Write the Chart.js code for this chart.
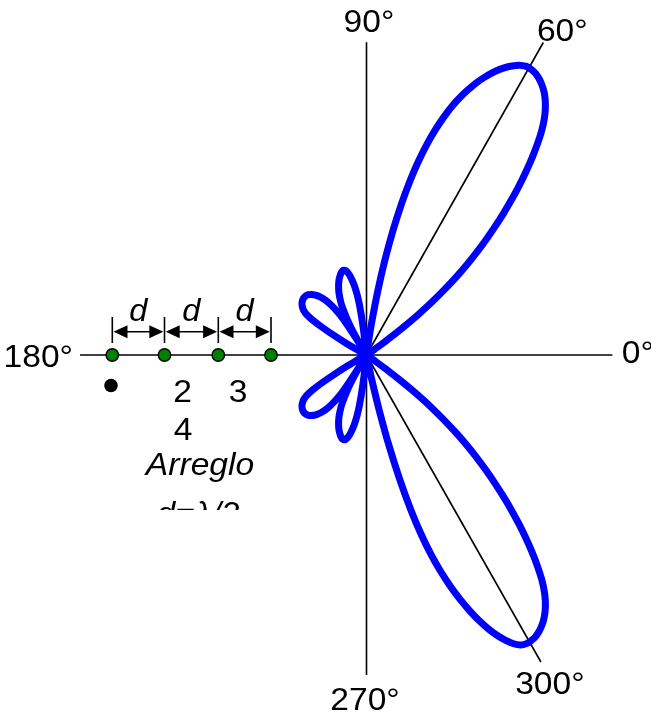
<!DOCTYPE html>
<html>
<head>
<meta charset="utf-8">
<script src="https://cdn.jsdelivr.net/npm/chart.js@4"></script>
<style>
  html, body { margin: 0; padding: 0; background: #ffffff; overflow: hidden; }
  #wrap { width: 651px; height: 715px; position: relative; }
</style>
</head>
<body>
<div id="wrap"><canvas id="pattern" width="651" height="715"></canvas></div>
<script>
// Far-field pattern of a 4-element linear array (d = λ/2), beams at 60° and 300°.
// Angles in degrees, field normalised to the main-beam maximum.
const patternAngles = [
  // main lobe, upper half
  0, 30, 33, 34, 35, 36, 37, 38, 39, 40, 41, 42, 43, 44, 45, 46, 47, 48, 49, 50,
  51, 52, 53, 54, 55, 56, 57, 58, 59, 60, 61, 62, 63, 64, 65, 66, 67, 68, 69, 70,
  71, 72, 73, 74, 75, 76, 77, 78, 79, 80, 81, 82, 82.5,
  // side lobes, upper half
  96, 97, 98, 99, 100, 101, 102, 103, 104, 105, 106, 107, 108, 110, 112, 114, 116, 117, 118, 119, 120, 121, 121.5,
  122, 123, 124, 125, 126, 127, 128, 130, 132, 134, 136, 138, 140, 142, 144, 145, 146, 147, 148, 149, 150, 151, 152, 154,
  180,
  // side lobes, lower half
  206, 208, 209, 210, 211, 212, 213, 214, 215, 216, 218, 220, 222, 224, 226, 228, 230, 232, 233, 234, 235, 236, 237, 238,
  238.5, 239, 240, 241, 242, 243, 244, 246, 248, 250, 252, 253, 254, 255, 256, 257, 258, 259, 260, 261, 262, 263, 264,
  // main lobe, lower half
  281, 282, 283, 284, 285, 286, 287, 288, 289, 290, 291, 292, 293, 294, 295, 296, 297, 298, 299, 300,
  301, 302, 303, 304, 305, 306, 307, 308, 309, 310, 311, 312, 313, 314, 315, 316, 317, 318, 319, 320,
  321, 322, 323, 324, 325, 326, 327, 330, 360
];
const patternField = [
  0, 0, 0, 0.008, 0.03, 0.07, 0.135, 0.198, 0.255, 0.308, 0.36, 0.41, 0.458, 0.505, 0.552, 0.599, 0.646, 0.692, 0.737, 0.781,
  0.823, 0.862, 0.895, 0.922, 0.944, 0.962, 0.976, 0.987, 0.995, 0.999, 1.0, 0.994, 0.984, 0.971, 0.955, 0.936, 0.914, 0.89, 0.862, 0.832,
  0.798, 0.758, 0.714, 0.664, 0.607, 0.542, 0.468, 0.385, 0.295, 0.198, 0.096, 0.02, 0,
  0, 0.09, 0.155, 0.19, 0.215, 0.233, 0.248, 0.258, 0.264, 0.266, 0.265, 0.261, 0.256, 0.243, 0.226, 0.205, 0.177, 0.158, 0.135, 0.11, 0.08, 0.04, 0,
  0.06, 0.13, 0.16, 0.18, 0.196, 0.209, 0.22, 0.236, 0.247, 0.254, 0.257, 0.257, 0.254, 0.248, 0.238, 0.23, 0.218, 0.195, 0.16, 0.115, 0.07, 0.04, 0.02, 0,
  0,
  0, 0.02, 0.04, 0.07, 0.115, 0.16, 0.195, 0.218, 0.23, 0.238, 0.248, 0.254, 0.257, 0.257, 0.254, 0.247, 0.236, 0.22, 0.209, 0.196, 0.18, 0.16, 0.13, 0.06,
  0, 0.04, 0.08, 0.11, 0.135, 0.158, 0.177, 0.205, 0.226, 0.243, 0.256, 0.261, 0.265, 0.266, 0.264, 0.258, 0.248, 0.233, 0.215, 0.19, 0.155, 0.09, 0,
  0, 0.07, 0.175, 0.29, 0.395, 0.49, 0.572, 0.64, 0.698, 0.749, 0.795, 0.837, 0.875, 0.909, 0.938, 0.962, 0.982, 0.995, 1.0, 0.999,
  0.995, 0.987, 0.976, 0.962, 0.944, 0.922, 0.895, 0.862, 0.823, 0.781, 0.737, 0.692, 0.646, 0.599, 0.552, 0.505, 0.458, 0.41, 0.36, 0.308,
  0.255, 0.198, 0.135, 0.07, 0.03, 0.008, 0, 0, 0
];

// Reference directions drawn as lines from the origin, with their labels
const axisAngles  = [0, 60.5, 90, 180, 270, 299.6];
const axisLengths = [0.745, 1.088, 0.948, 0.868, 0.970, 1.070];
const axisLabels  = ['0°', '60°', '90°', '180°', '270°', '300°'];

// Array sketch captions
const spacingLabels  = ['d', 'd', 'd'];
const elementNumbers = ['2', '3', '4'];
const arrayTitle     = 'Arreglo';
const spacingText    = 'd=λ/2';

const FONT = '"Liberation Sans", Arial, Helvetica, sans-serif';
const TEXT_STRETCH = 1.05;

function drawText(ctx, txt, x, y, size, align, italic) {
  ctx.save();
  ctx.font = (italic ? 'italic ' : '') + size + 'px ' + FONT;
  ctx.textAlign = align;
  ctx.textBaseline = 'alphabetic';
  ctx.fillStyle = '#000000';
  ctx.translate(x, y);
  ctx.scale(TEXT_STRETCH, 1);
  ctx.fillText(txt, 0, 0);
  ctx.restore();
}

// Label placement relative to the end of each reference line (px)
const labelOffsets = [
  { dx: 9.5,  dy: 8,   align: 'left'   },
  { dx: 19,   dy: -2,  align: 'center' },
  { dx: 2.5,  dy: -10, align: 'center' },
  { dx: -7,   dy: 12,  align: 'right'  },
  { dx: -1.5, dy: 35,  align: 'center' },
  { dx: 9,    dy: 32,  align: 'center' }
];

const polarAxesPlugin = {
  id: 'polarAxes',
  beforeDatasetsDraw(chart) {
    const { ctx, scales: { x, y } } = chart;
    const cx = x.getPixelForValue(0), cy = y.getPixelForValue(0);
    ctx.save();
    ctx.strokeStyle = '#000000';
    ctx.lineWidth = 1.6;
    axisAngles.forEach((deg, i) => {
      const a = deg * Math.PI / 180;
      const ex = x.getPixelForValue(axisLengths[i] * Math.cos(a));
      const ey = y.getPixelForValue(axisLengths[i] * Math.sin(a));
      ctx.beginPath();
      ctx.moveTo(cx, cy);
      ctx.lineTo(ex, ey);
      ctx.stroke();
      const o = labelOffsets[i];
      drawText(ctx, axisLabels[i], ex + o.dx, ey + o.dy, 32, o.align, false);
    });
    ctx.restore();
  },
  afterDatasetsDraw(chart) {
    const { ctx, scales: { x, y } } = chart;
    const cx = x.getPixelForValue(0), cy = y.getPixelForValue(0);
    // element positions along the array axis, px from the origin
    const elemX = [-254.2, -202.0, -148.2, -95.5].map(v => cx + v);
    const tickTop = cy - 38, tickBottom = cy - 12, arrowY = cy - 23.3;
    ctx.save();
    ctx.strokeStyle = '#000000';
    ctx.fillStyle = '#000000';
    ctx.lineWidth = 1.6;
    // spacing markers
    elemX.forEach(ex => {
      ctx.beginPath();
      ctx.moveTo(ex, tickTop);
      ctx.lineTo(ex, tickBottom);
      ctx.stroke();
    });
    const head = (tip, dir) => {
      ctx.beginPath();
      ctx.moveTo(tip, arrowY);
      ctx.lineTo(tip - dir * 14, arrowY - 6.5);
      ctx.lineTo(tip - dir * 14, arrowY + 6.5);
      ctx.closePath();
      ctx.fill();
    };
    for (let i = 0; i < elemX.length - 1; i++) {
      const a = elemX[i] + 1.2, b = elemX[i + 1] - 1.2;
      ctx.beginPath();
      ctx.moveTo(a + 8, arrowY);
      ctx.lineTo(b - 8, arrowY);
      ctx.stroke();
      head(a, -1);
      head(b, 1);
      drawText(ctx, spacingLabels[i], (elemX[i] + elemX[i + 1]) / 2, cy - 34, 31, 'center', true);
    }
    // array elements
    elemX.forEach(ex => {
      ctx.beginPath();
      ctx.arc(ex, cy, 6.2, 0, Math.PI * 2);
      ctx.fillStyle = '#008000';
      ctx.fill();
      ctx.lineWidth = 1.4;
      ctx.strokeStyle = '#000000';
      ctx.stroke();
    });
    // element numbering
    ctx.fillStyle = '#000000';
    ctx.beginPath();
    ctx.arc(cx - 255.5, cy + 30.5, 6.8, 0, Math.PI * 2);
    ctx.fill();
    drawText(ctx, elementNumbers[0], cx - 184, cy + 47, 32, 'center', false);
    drawText(ctx, elementNumbers[1], cx - 128.5, cy + 47, 32, 'center', false);
    drawText(ctx, elementNumbers[2], cx - 183.5, cy + 85, 32, 'center', false);
    drawText(ctx, arrayTitle, cx - 166.5, cy + 120, 32, 'center', true);
    // caption box ends just under the title, cutting the last line
    ctx.save();
    ctx.beginPath();
    ctx.rect(cx - 260, cy + 128, 160, 27);
    ctx.clip();
    drawText(ctx, spacingText, cx - 168.5, cy + 169, 32, 'center', true);
    ctx.restore();
    ctx.restore();
  }
};

const UNIT_PX = 330; // pixels per unit field
const points = patternAngles.map((deg, i) => {
  const a = deg * Math.PI / 180;
  return { x: patternField[i] * Math.cos(a), y: patternField[i] * Math.sin(a) };
});

new Chart(document.getElementById('pattern'), {
  type: 'scatter',
  data: {
    datasets: [{
      data: points,
      showLine: true,
      borderColor: '#0000ff',
      borderWidth: 7,
      borderJoinStyle: 'round',
      borderCapStyle: 'round',
      pointRadius: 0,
      tension: 0.4,
      fill: false,
      clip: false
    }]
  },
  options: {
    responsive: false,
    animation: false,
    devicePixelRatio: 1,
    layout: { padding: 0 },
    events: [],
    plugins: { legend: { display: false }, tooltip: { enabled: false } },
    scales: {
      x: { type: 'linear', display: false, min: -366.5 / UNIT_PX, max: 284.5 / UNIT_PX },
      y: { type: 'linear', display: false, min: -360 / UNIT_PX, max: 355 / UNIT_PX }
    }
  },
  plugins: [polarAxesPlugin]
});
</script>
</body>
</html>
